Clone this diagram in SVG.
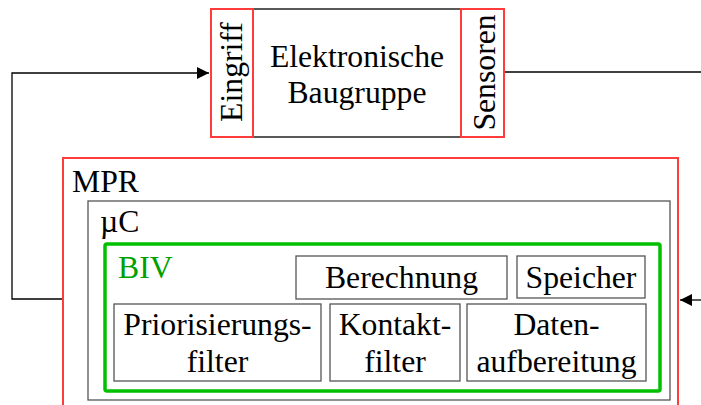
<svg xmlns="http://www.w3.org/2000/svg" width="701" height="405" viewBox="0 0 701 405">
<defs>
<style>
text{font-family:"Liberation Serif","Times New Roman",serif;font-size:31.7px;fill:#000}
.c{text-anchor:middle}
.red{fill:#fff;stroke:#ff3b3b;stroke-width:2}
.blk{fill:#fff;stroke:#000;stroke-width:1.3}
.gry{fill:#fff;stroke:#555;stroke-width:1.3}
.grn{fill:none;stroke:#00c000;stroke-width:3.5}
.ln{fill:none;stroke:#000;stroke-width:1.3}
</style>
<marker id="ah" viewBox="0 0 12 12" refX="12" refY="6" markerWidth="12" markerHeight="12" markerUnits="userSpaceOnUse" orient="auto">
<path d="M0,0 L12,6 L0,12 Z" fill="#000"/>
</marker>
</defs>
<rect width="701" height="405" fill="#fff"/>
<g id="connectors">
<polyline class="ln" points="63,299 12,299 12,73 209,73" marker-end="url(#ah)"/>
<line class="ln" x1="505" y1="72" x2="701" y2="72"/>
<line class="ln" x1="701" y1="300" x2="680" y2="300" marker-end="url(#ah)"/>
</g>
<g id="baugruppe">
<rect class="blk" x="253" y="9" width="208" height="128"/>
<text class="c" x="357" y="67">Elektronische</text>
<text class="c" x="357" y="103">Baugruppe</text>
</g>
<g id="eingriff">
<rect class="red" x="211" y="9" width="42" height="128"/>
<text class="c" transform="translate(242,72) rotate(-90)">Eingriff</text>
</g>
<g id="sensoren">
<rect class="red" x="461" y="9" width="43" height="128"/>
<text class="c" transform="translate(495,72.5) rotate(-90)">Sensoren</text>
</g>
<g id="mpr">
<rect class="red" x="63" y="158" width="615" height="260"/>
<text x="72" y="192">MPR</text>
</g>
<g id="uc">
<rect class="gry" x="88" y="201" width="582" height="199"/>
<text x="100" y="232">µC</text>
</g>
<g id="biv">
<rect class="grn" x="105" y="244" width="555" height="147" rx="2"/>
<text x="118" y="278" style="fill:#00a000">BIV</text>
</g>
<g id="berechnung">
<rect class="gry" x="296" y="256" width="211" height="43"/>
<text class="c" x="401.5" y="288">Berechnung</text>
</g>
<g id="speicher">
<rect class="gry" x="517" y="256" width="128" height="42"/>
<text class="c" x="581" y="288">Speicher</text>
</g>
<g id="priorisierung">
<rect class="gry" x="114" y="304" width="207" height="77"/>
<text class="c" x="217.5" y="335">Priorisierungs-</text>
<text class="c" x="217.5" y="371.5">filter</text>
</g>
<g id="kontakt">
<rect class="gry" x="330" y="304" width="130" height="77"/>
<text class="c" x="395" y="335">Kontakt-</text>
<text class="c" x="395" y="371.5">filter</text>
</g>
<g id="daten">
<rect class="gry" x="467" y="304" width="179" height="77"/>
<text class="c" x="556.5" y="335">Daten-</text>
<text class="c" x="556.5" y="371.5">aufbereitung</text>
</g>
</svg>
